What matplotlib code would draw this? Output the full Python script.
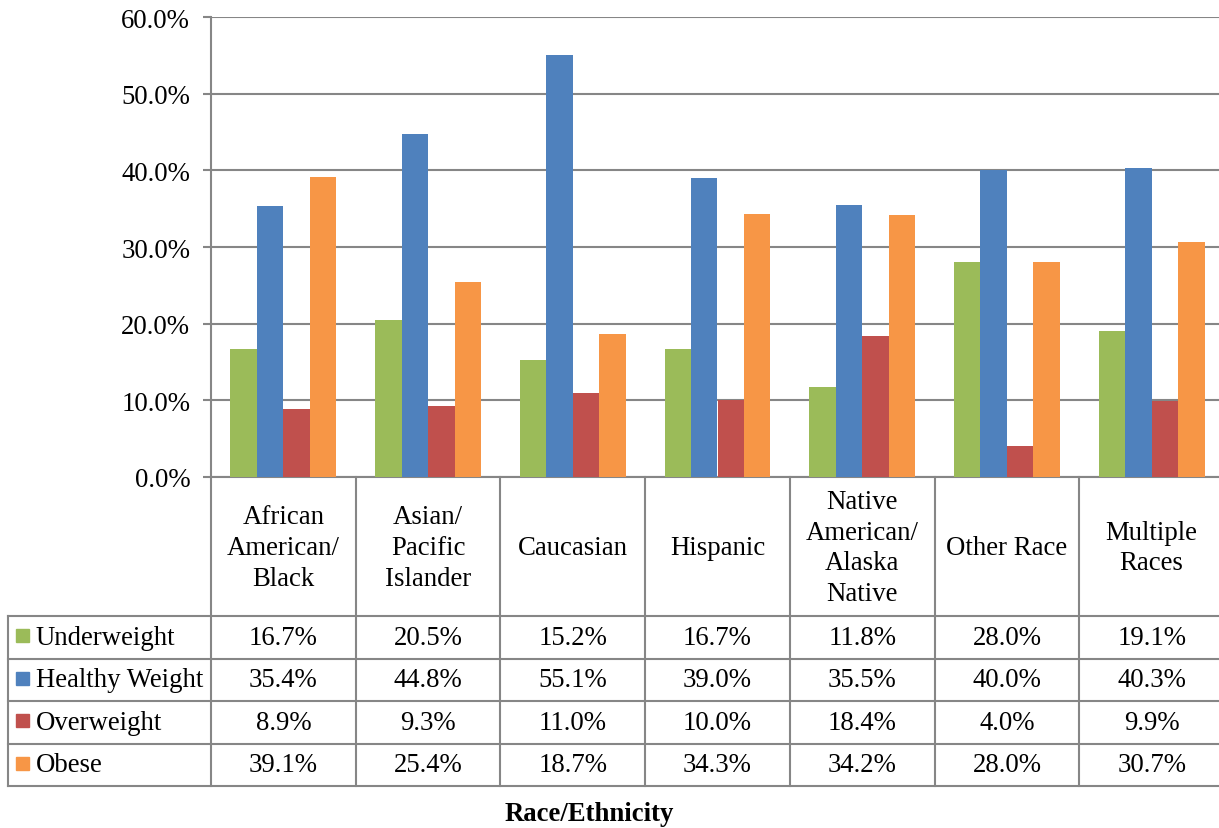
import matplotlib
matplotlib.use("Agg")
import matplotlib.pyplot as plt
import numpy as np

# data (percent)
races = ["African\nAmerican/\nBlack", "Asian/\nPacific\nIslander", "Caucasian", "Hispanic",
         "Native\nAmerican/\nAlaska\nNative", "Other Race", "Multiple\nRaces"]
series_names = ["Underweight", "Healthy Weight", "Overweight", "Obese"]
underweight = [16.7, 20.5, 15.2, 16.7, 11.8, 28.0, 19.1]
healthy = [35.4, 44.8, 55.1, 39.0, 35.5, 40.0, 40.3]
overweight = [8.9, 9.3, 11.0, 10.0, 18.4, 4.0, 9.9]
obese = [39.1, 25.4, 18.7, 34.3, 34.2, 28.0, 30.7]
colors = ["#9BBB59", "#4F81BD", "#C0504D", "#F79646"]
yticks = [0, 10, 20, 30, 40, 50, 60]


def main():
    plt.rcParams['font.family'] = ['Liberation Serif', 'DejaVu Serif']
    W, H = 1219, 829
    fig = plt.figure(figsize=(W / 100, H / 100), dpi=100)
    grey = "#868686"
    fs = 19.3

    # plot area: x 211..1224 px, y 18..478 px from top
    ax = fig.add_axes([211 / W, 1 - 478 / H, (1224 - 211) / W, (478 - 18) / H])
    values = [underweight, healthy, overweight, obese]
    x = np.arange(len(races))
    w = 0.183
    for i, (vals, c) in enumerate(zip(values, colors)):
        ax.bar(x + (i - 1.5) * w, vals, width=w, color=c, zorder=3)

    ax.set_xlim(-0.5, len(races) - 0.5)
    ax.set_ylim(0, 60)
    ax.set_yticks(yticks)
    ax.set_yticklabels([f"{v:.1f}%" for v in yticks], fontsize=fs)
    ax.set_xticks([])
    ax.grid(axis='y', color=grey, lw=1.5, zorder=0)
    for s in ["top", "right"]:
        ax.spines[s].set_visible(False)
    for s in ["left", "bottom"]:
        ax.spines[s].set_color(grey)
        ax.spines[s].set_linewidth(1.5)
    ax.tick_params(axis='y', length=6, width=1.5, color=grey, pad=9)

    # data table below the plot, drawn in pixel space
    tab = fig.add_axes([0, 0, 1, 1], zorder=5)
    tab.set_xlim(0, W)
    tab.set_ylim(0, H)
    tab.axis("off")
    fig.canvas.draw()
    inv = tab.transData.inverted()
    bounds = [inv.transform(ax.transData.transform((b, 0)))[0]
              for b in np.arange(len(races) + 1) - 0.5]
    y_axis = inv.transform(ax.transData.transform((0, 0)))[1]
    header_bottom = H - 617
    row_h = 42.5
    nrows = len(series_names)
    table_bottom = header_bottom - nrows * row_h
    left = 8

    # header cells
    for b in bounds:
        tab.plot([b, b], [y_axis, table_bottom], color=grey, lw=1.5)
    for j, name in enumerate(races):
        cx = (bounds[j] + bounds[j + 1]) / 2
        tab.text(cx, (y_axis + header_bottom) / 2 - 1, name, ha="center", va="center",
                 fontsize=fs, linespacing=1.29, multialignment="center")

    # rows
    tab.plot([left, left], [header_bottom, table_bottom], color=grey, lw=1.5)
    for r in range(nrows + 1):
        yy = header_bottom - r * row_h
        tab.plot([left, W], [yy, yy], color=grey, lw=1.5)
    for r, (name, vals, c) in enumerate(zip(series_names, values, colors)):
        cy = header_bottom - (r + 0.5) * row_h
        tab.add_patch(plt.Rectangle((16, cy - 5), 13, 13, color=c))
        tab.text(36, cy, name, ha="left", va="center", fontsize=fs)
        for j, v in enumerate(vals):
            cx = (bounds[j] + bounds[j + 1]) / 2
            tab.text(cx, cy, f"{v:.1f}%", ha="center", va="center", fontsize=fs)

    tab.text(589, H - 815, "Race/Ethnicity",
             ha="center", va="center", fontsize=fs, fontweight="bold")

    fig.savefig("out.png", dpi=100)


if __name__ == '__main__':
    main()
